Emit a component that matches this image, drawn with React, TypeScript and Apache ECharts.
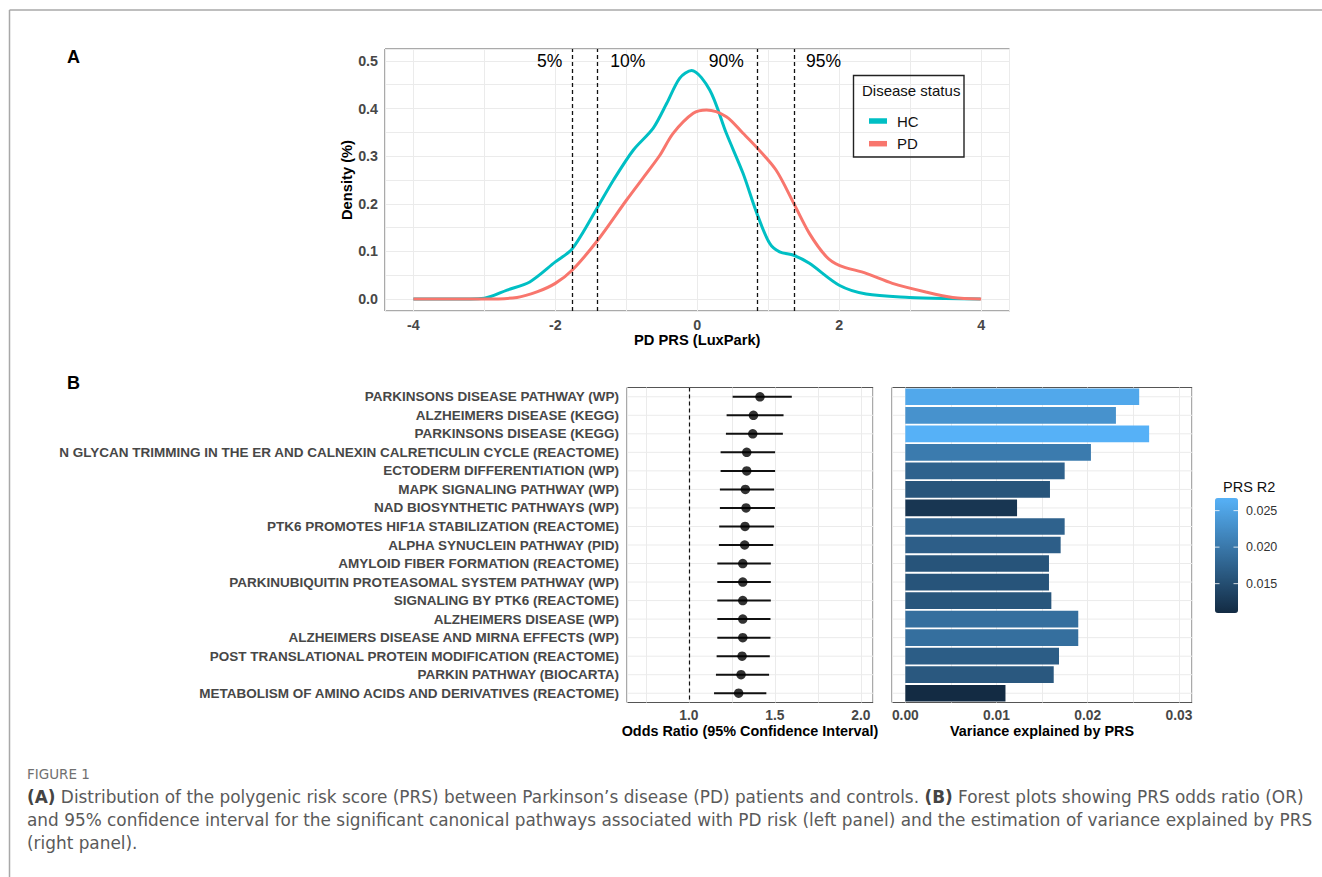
import React, { useEffect, useRef } from 'react';
import * as echarts from 'echarts';

// ---------- Panel A: PRS density ----------
const hcX = [-4, -3.5, -3.0, -2.68, -2.36, -2.0, -1.76, -1.4, -1.18, -0.9, -0.62, -0.43, -0.246, -0.08, 0.176, 0.41, 0.645, 0.84, 1.02, 1.16, 1.36, 1.58, 2.0, 2.38, 2.99, 3.5, 3.99];
const hcY = [0, 0, 0.002, 0.019, 0.036, 0.078, 0.106, 0.194, 0.25, 0.313, 0.359, 0.411, 0.464, 0.48, 0.439, 0.348, 0.264, 0.18, 0.117, 0.099, 0.092, 0.075, 0.029, 0.0105, 0.0035, 0.001, 0];
const pdX = [-4, -3, -2.54, -2.26, -2.0, -1.76, -1.4, -0.996, -0.715, -0.527, -0.34, -0.057, 0.13, 0.41, 0.645, 0.84, 1.11, 1.36, 1.58, 1.82, 2.0, 2.38, 2.75, 3.22, 3.6, 4.0];
const pdY = [0, 0, 0.0035, 0.015, 0.033, 0.061, 0.124, 0.208, 0.264, 0.302, 0.348, 0.39, 0.397, 0.383, 0.348, 0.318, 0.271, 0.201, 0.138, 0.089, 0.071, 0.054, 0.033, 0.015, 0.0035, 0];
const quantileX = [-1.763, -1.405, 0.842, 1.363];
const pctLabels = ['5%', '10%', '90%', '95%'];
const pctLabelX = [-2.08, -0.98, 0.41, 1.78];
const pctLabelY = 0.5;

// ---------- Panel B ----------
const pathways = [
  'PARKINSONS DISEASE PATHWAY (WP)',
  'ALZHEIMERS DISEASE (KEGG)',
  'PARKINSONS DISEASE (KEGG)',
  'N GLYCAN TRIMMING IN THE ER AND CALNEXIN CALRETICULIN CYCLE (REACTOME)',
  'ECTODERM DIFFERENTIATION (WP)',
  'MAPK SIGNALING PATHWAY (WP)',
  'NAD BIOSYNTHETIC PATHWAYS (WP)',
  'PTK6 PROMOTES HIF1A STABILIZATION (REACTOME)',
  'ALPHA SYNUCLEIN PATHWAY (PID)',
  'AMYLOID FIBER FORMATION (REACTOME)',
  'PARKINUBIQUITIN PROTEASOMAL SYSTEM PATHWAY (WP)',
  'SIGNALING BY PTK6 (REACTOME)',
  'ALZHEIMERS DISEASE (WP)',
  'ALZHEIMERS DISEASE AND MIRNA EFFECTS (WP)',
  'POST TRANSLATIONAL PROTEIN MODIFICATION (REACTOME)',
  'PARKIN PATHWAY (BIOCARTA)',
  'METABOLISM OF AMINO ACIDS AND DERIVATIVES (REACTOME)',
];
const orValues = [1.413, 1.375, 1.371, 1.336, 1.336, 1.328, 1.332, 1.326, 1.324, 1.313, 1.313, 1.313, 1.313, 1.313, 1.309, 1.303, 1.289];
const ciLow = [1.254, 1.219, 1.215, 1.184, 1.184, 1.18, 1.18, 1.176, 1.174, 1.165, 1.165, 1.165, 1.165, 1.165, 1.161, 1.157, 1.146];
const ciHigh = [1.598, 1.55, 1.546, 1.501, 1.501, 1.495, 1.5, 1.495, 1.49, 1.476, 1.476, 1.476, 1.474, 1.474, 1.47, 1.466, 1.45];
const orReference = 1.0;
const r2Values = [0.02564, 0.02309, 0.02673, 0.02035, 0.01747, 0.01586, 0.01225, 0.01747, 0.01703, 0.01575, 0.01575, 0.01601, 0.01896, 0.01896, 0.01685, 0.01627, 0.01098];
const r2LegendTicks = [0.015, 0.02, 0.025];

const captionLines = [
  '{b|(A)} Distribution of the polygenic risk score (PRS) between Parkinson\u2019s disease (PD) patients and controls. {b|(B)} Forest plots showing PRS odds ratio (OR)',
  'and 95% confidence interval for the significant canonical pathways associated with PD risk (left panel) and the estimation of variance explained by PRS',
  '(right panel).',
];

const FONT = '"Liberation Sans", Arial, Helvetica, sans-serif';
const CAPFONT = '"DejaVu Sans", "Open Sans", sans-serif';
const TICK = { fontFamily: FONT, fontWeight: 'bold', color: '#474747' };
const GRIDLINE = { lineStyle: { color: '#EBEBEB', width: 1 } };

export default function App() {
  const ref = useRef<HTMLDivElement>(null);
  useEffect(() => {
    if (!ref.current) return;
    const chart = echarts.init(ref.current, undefined, { renderer: 'svg' });

    const r2Min = Math.min(...r2Values);
    const r2Max = Math.max(...r2Values);
    const cbTop = 498, cbLeft = 1215, cbW = 23, cbH = 115;

    const rowGrid = (xIdx: number) => ({
      type: 'custom',
      xAxisIndex: xIdx,
      yAxisIndex: xIdx,
      silent: true,
      z: 1,
      clip: false,
      encode: { x: 0, y: 1 },
      data: pathways.map((_, i) => [orReference, i]),
      renderItem: (params: any, api: any) => {
        const cs = params.coordSys;
        const y = api.coord([api.value(0), api.value(1)])[1];
        return {
          type: 'line',
          shape: { x1: cs.x, y1: y, x2: cs.x + cs.width, y2: y },
          style: { stroke: '#EBEBEB', lineWidth: 1 },
        };
      },
    });

    const option: any = {
      animation: false,
      textStyle: { fontFamily: FONT },
      grid: [
        { left: 385, top: 49, width: 624.5, height: 262, show: true, borderColor: '#555', borderWidth: 1 },
        { left: 627, top: 387.5, width: 246, height: 315, show: true, borderColor: '#555', borderWidth: 1 },
        { left: 892, top: 387.5, width: 300, height: 315, show: true, borderColor: '#555', borderWidth: 1 },
      ],
      xAxis: [
        {
          gridIndex: 0, type: 'value', min: -4.4, max: 4.4, minInterval: 1, maxInterval: 1,
          axisLine: { show: false }, axisTick: { show: false }, splitLine: GRIDLINE,
          axisLabel: {
            ...TICK, fontSize: 14.3, margin: 7,
            formatter: (v: number) => (Math.abs(v / 2 - Math.round(v / 2)) < 1e-9 ? String(Math.round(v)) : ''),
          },
          name: 'PD PRS (LuxPark)', nameLocation: 'middle', nameGap: 21,
          nameTextStyle: { fontFamily: FONT, fontWeight: 'bold', fontSize: 14.7, color: '#000' },
        },
        {
          gridIndex: 1, type: 'value', min: 0.64, max: 2.07, minInterval: 0.25, maxInterval: 0.25,
          axisLine: { show: false }, axisTick: { show: false }, splitLine: GRIDLINE,
          axisLabel: {
            ...TICK, fontSize: 13.8, margin: 6,
            formatter: (v: number) => (Math.round(v * 100) % 50 === 0 && v > 0.99 ? v.toFixed(1) : ''),
          },
          name: 'Odds Ratio (95% Confidence Interval)', nameLocation: 'middle', nameGap: 21,
          nameTextStyle: { fontFamily: FONT, fontWeight: 'bold', fontSize: 14.4, color: '#000' },
        },
        {
          gridIndex: 2, type: 'value', min: -0.00146, max: 0.03143, minInterval: 0.005, maxInterval: 0.005,
          axisLine: { show: false }, axisTick: { show: false }, splitLine: GRIDLINE,
          axisLabel: {
            ...TICK, fontSize: 13.8, margin: 6,
            formatter: (v: number) => (Math.round(v * 10000) % 100 === 0 && v > -0.0001 ? v.toFixed(2) : ''),
          },
          name: 'Variance explained by PRS', nameLocation: 'middle', nameGap: 21,
          nameTextStyle: { fontFamily: FONT, fontWeight: 'bold', fontSize: 14.4, color: '#000' },
        },
      ],
      yAxis: [
        {
          gridIndex: 0, type: 'value', min: -0.025, max: 0.525, minInterval: 0.05, maxInterval: 0.05,
          axisLine: { show: false }, axisTick: { show: false }, splitLine: GRIDLINE,
          axisLabel: {
            ...TICK, fontSize: 14.3, margin: 7,
            formatter: (v: number) => (Math.round(v * 1000) % 100 === 0 ? v.toFixed(1) : ''),
          },
          name: 'Density (%)', nameLocation: 'middle', nameGap: 31, nameRotate: 90,
          nameTextStyle: { fontFamily: FONT, fontWeight: 'bold', fontSize: 14.7, color: '#000' },
        },
        {
          gridIndex: 1, type: 'category', data: pathways, inverse: true,
          axisLine: { show: false }, axisTick: { show: false }, splitLine: { show: false },
          axisLabel: { ...TICK, fontSize: 13.5, margin: 8, interval: 0 },
        },
        {
          gridIndex: 2, type: 'category', data: pathways, inverse: true,
          axisLine: { show: false }, axisTick: { show: false }, splitLine: { show: false },
          axisLabel: { show: false },
        },
      ],
      legend: {
        data: ['HC', 'PD'], orient: 'vertical', left: 864, top: 107.5, itemWidth: 18, itemHeight: 5.5,
        itemGap: 5.7, icon: 'rect', selectedMode: false,
        textStyle: { fontFamily: FONT, fontSize: 15, color: '#111', lineHeight: 17, padding: [0, 0, 0, 5] },
      },
      visualMap: {
        type: 'continuous', seriesIndex: 7, dimension: 0, min: r2Min, max: r2Max,
        inRange: { color: ['#132B43', '#56B1F7'] },
        left: cbLeft, top: cbTop, itemWidth: cbW, itemHeight: cbH, padding: 0,
        calculable: false, hoverLink: false, show: true,
      },
      series: [
        {
          name: 'HC', type: 'line', xAxisIndex: 0, yAxisIndex: 0, smooth: 0.3, showSymbol: false, symbol: 'none',
          data: hcX.map((x, i) => [x, hcY[i]]), z: 3,
          lineStyle: { color: '#00BFC4', width: 3 }, itemStyle: { color: '#00BFC4' },
          markLine: {
            silent: true, symbol: ['none', 'none'], label: { show: false },
            lineStyle: { color: '#111', width: 1.3, type: [4, 3] },
            data: quantileX.map((q) => ({ xAxis: q })),
          },
        },
        {
          name: 'PD', type: 'line', xAxisIndex: 0, yAxisIndex: 0, smooth: 0.3, showSymbol: false, symbol: 'none',
          data: pdX.map((x, i) => [x, pdY[i]]), z: 3,
          lineStyle: { color: '#F8766D', width: 3 }, itemStyle: { color: '#F8766D' },
        },
        {
          name: 'pct', type: 'scatter', xAxisIndex: 0, yAxisIndex: 0, symbolSize: 1, silent: true,
          itemStyle: { color: 'rgba(0,0,0,0)' },
          data: pctLabelX.map((x, i) => ({ value: [x, pctLabelY], name: pctLabels[i] })),
          label: { show: true, position: 'inside', formatter: '{b}', fontFamily: FONT, fontSize: 17.5, color: '#000', opacity: 1 },
        },
        rowGrid(1),
        {
          name: 'ci', type: 'custom', xAxisIndex: 1, yAxisIndex: 1, silent: true, z: 3,
          encode: { x: [0, 1], y: 2 },
          data: pathways.map((_, i) => [ciLow[i], ciHigh[i], i]),
          renderItem: (params: any, api: any) => {
            const p1 = api.coord([api.value(0), api.value(2)]);
            const p2 = api.coord([api.value(1), api.value(2)]);
            return {
              type: 'line',
              shape: { x1: p1[0], y1: p1[1], x2: p2[0], y2: p2[1] },
              style: { stroke: '#111', lineWidth: 2 },
            };
          },
        },
        {
          name: 'OR', type: 'scatter', xAxisIndex: 1, yAxisIndex: 1, symbolSize: 9.5, z: 4, silent: true,
          itemStyle: { color: '#000' },
          data: orValues.map((v, i) => [v, i]),
          markLine: {
            silent: true, symbol: ['none', 'none'], label: { show: false },
            lineStyle: { color: '#111', width: 1.2, type: [4, 3] },
            data: [{ xAxis: orReference }],
          },
        },
        rowGrid(2),
        {
          name: 'R2', type: 'bar', xAxisIndex: 2, yAxisIndex: 2, barCategoryGap: '10%', z: 3, silent: true,
          encode: { x: 0, y: 1 },
          data: r2Values.map((v, i) => [v, i]),
        },
      ],
      graphic: [
        { type: 'line', silent: true, shape: { x1: 9.5, y1: 10, x2: 1322, y2: 10 }, style: { stroke: '#A8A8A8', lineWidth: 1.5 } },
        { type: 'line', silent: true, shape: { x1: 9.5, y1: 10, x2: 9.5, y2: 877 }, style: { stroke: '#A8A8A8', lineWidth: 1.5 } },
        { type: 'text', x: 67, y: 57, style: { text: 'A', fontFamily: FONT, fontWeight: 'bold', fontSize: 18, fill: '#000', textVerticalAlign: 'middle' } },
        { type: 'text', x: 67, y: 383, style: { text: 'B', fontFamily: FONT, fontWeight: 'bold', fontSize: 18, fill: '#000', textVerticalAlign: 'middle' } },
        { type: 'rect', silent: true, z: 10, shape: { x: 853.5, y: 75.5, width: 110.5, height: 81.5 }, style: { fill: 'none', stroke: '#222', lineWidth: 1.4 } },
        { type: 'text', x: 862, y: 90, z: 10, style: { text: 'Disease status', fontFamily: FONT, fontSize: 15, fill: '#111', textVerticalAlign: 'middle' } },
        { type: 'text', x: 1223, y: 487, style: { text: 'PRS R2', fontFamily: FONT, fontSize: 14.5, fill: '#111', textVerticalAlign: 'middle' } },
        ...r2LegendTicks.map((v) => {
          const y = cbTop + ((r2Max - v) / (r2Max - r2Min)) * cbH;
          return { type: 'text', x: 1246, y, style: { text: v.toFixed(3), fontFamily: FONT, fontSize: 12.5, fill: '#333', textVerticalAlign: 'middle' } };
        }),
        ...r2LegendTicks.flatMap((v) => {
          const y = cbTop + ((r2Max - v) / (r2Max - r2Min)) * cbH;
          return [
            { type: 'line', z: 20, silent: true, shape: { x1: cbLeft, y1: y, x2: cbLeft + 4.5, y2: y }, style: { stroke: 'rgba(255,255,255,0.8)', lineWidth: 1 } },
            { type: 'line', z: 20, silent: true, shape: { x1: cbLeft + cbW - 4.5, y1: y, x2: cbLeft + cbW, y2: y }, style: { stroke: 'rgba(255,255,255,0.8)', lineWidth: 1 } },
          ];
        }),
        { type: 'text', x: 27, y: 774, style: { text: 'FIGURE 1', fontFamily: CAPFONT, fontSize: 13.5, fill: '#707070', textVerticalAlign: 'middle' } },
        ...captionLines.map((t, i) => ({
          type: 'text', x: 27, y: 797 + i * 23,
          style: {
            text: t, fontFamily: CAPFONT, fontSize: 16.9, fill: '#5a5a5a', textVerticalAlign: 'middle',
            rich: { b: { fontFamily: CAPFONT, fontSize: 16.9, fontWeight: 'bold', fill: '#444' } },
          },
        })),
      ],
    };
    chart.setOption(option);
    return () => chart.dispose();
  }, []);
  return <div ref={ref} style={{ position: 'absolute', left: 0, top: 0, width: 1322, height: 877, background: '#fff' }} />;
}
